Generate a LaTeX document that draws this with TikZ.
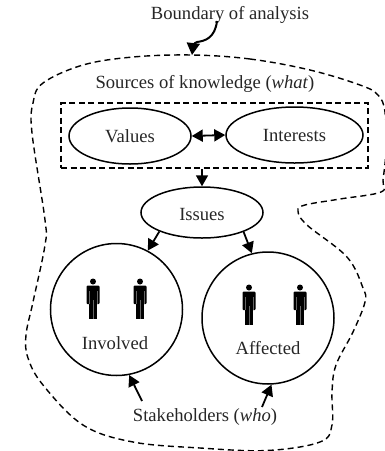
\documentclass[tikz,border=0pt]{standalone}
\usepackage{fontspec}
\setmainfont{Liberation Serif}
\usetikzlibrary{arrows.meta,shapes.geometric}
\tikzset{
  lbl/.style={inner sep=0pt,font=\fontsize{18.6}{20}\selectfont,text=black!85},
  oval/.style={draw,ellipse,line width=1.5pt,inner sep=0pt,minimum width=#1,minimum height=56pt},
  circ/.style={draw,circle,line width=1.5pt,inner sep=0pt,minimum size=132pt},
  arr/.style={line width=1.8pt,-{Triangle[length=11pt,width=12pt]}},
  bnd/.style={line width=1.4pt,dash pattern=on 6pt off 4pt},
  person/.pic={
    \fill[black] (0,-17.5) circle (3);
    \fill[black,rounded corners=1pt] (-6.5,-13.5) rectangle (6.5,5);
    \fill[black] (-4,0) rectangle (4,20);
    \fill[black!60] (-.5,1) rectangle (.5,20);
    \fill[black!60] (-4.1,-8) rectangle (-3.5,5);
    \fill[black!60] (3.5,-8) rectangle (4.1,5);
  }
}
\begin{document}
\begin{tikzpicture}[x=1pt,y=-1pt]
\useasboundingbox (0,0) rectangle (384,451);
\draw[bnd] plot[smooth cycle,tension=0.6] coordinates {(192,55) (250,59) (310,70) (360,85) (378,95) (385,112) (386,150) (383,180) (381,192) (340,199) (305,205) (298,211) (307,225) (347,257) (363,288) (365,302) (353,332) (336,365) (332,392) (332,425) (320,442) (267,450.5) (200,448) (133,442) (83,425) (43,385) (28,358) (26,335) (33,302) (45,245) (45,220) (32,133) (33,103) (43,83) (83,65) (133,57)};
\node[draw,line width=1.5pt,dash pattern=on 6pt off 3.5pt,minimum width=307pt,minimum height=65pt,inner sep=0pt] (box) at (214.5,135.5) {};
\node[oval=122pt] (values) at (130,136) {};
\node[oval=137pt] (interests) at (294.5,135) {};
\node[oval=122pt,minimum height=51pt] (issues) at (202,212.5) {};
\node[circ] (involved) at (116.5,309.5) {};
\node[circ] (affected) at (268,318) {};
\node[lbl] (tvalues) at (130,136) {Values};
\node[lbl] (tinterests) at (294.5,135) {Interests};
\node[lbl] (tissues) at (202,214) {Issues};
\node[lbl] (tinvolved) at (115,343) {Involved};
\node[lbl] (taffected) at (268,348) {Affected};
\node[lbl] (boundary) at (230,15) {Boundary of analysis};
\node[lbl] (sources) at (205,84) {Sources of knowledge (\textit{what})};
\node[lbl] (stake) at (205,417) {Stakeholders (\textit{who})};
\pic at (93,299) {person};
\pic at (140,299) {person};
\pic at (249,305) {person};
\pic at (300,305) {person};
\coordinate (btop) at (192,55);
\coordinate (bstart) at (217,21);
\coordinate (s1) at (142,401);
\coordinate (s2) at (262,407);
\draw[line width=2pt,-{Triangle[length=12pt,width=13pt]}] (bstart) .. controls (215,38) and (205,41) .. (197,42) .. controls (194,43) and (193,46) .. (btop);
\draw[line width=1.8pt,{Triangle[length=11pt,width=12pt]}-{Triangle[length=11pt,width=12pt]}] (values.east) -- (interests.west);
\draw[arr] (box.south -| issues.north) -- (issues.north);
\draw[arr] (issues.204) -- (involved.62);
\draw[arr] (issues.-25) -- (affected.104);
\draw[arr] (s1) -- (involved.-79);
\draw[arr] (s2) -- (affected.-87);
\end{tikzpicture}
\end{document}
